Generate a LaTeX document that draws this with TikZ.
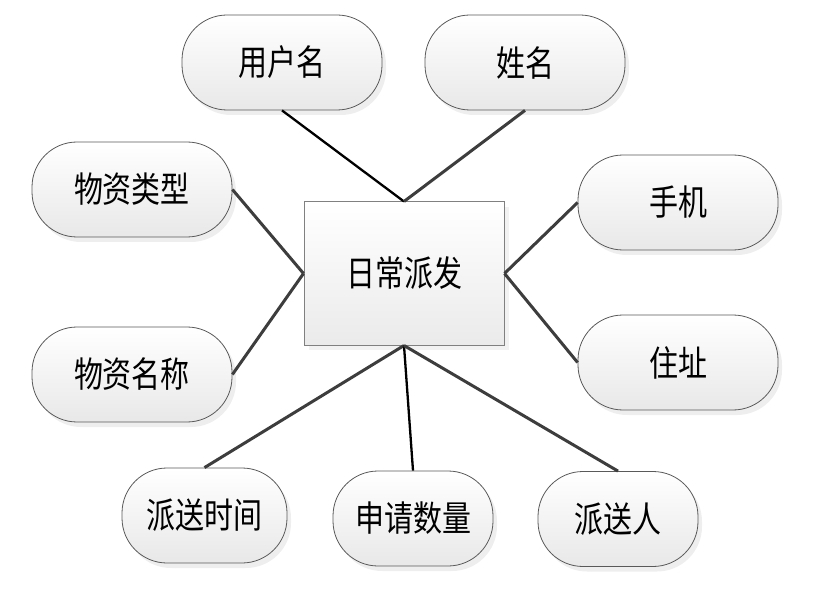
\documentclass[tikz,border=0pt]{standalone}
\usepackage{fontspec}
\usepackage{graphicx}
\newfontfamily\cjk{Noto Sans CJK SC}
\usetikzlibrary{shadows}
\tikzset{
  attr/.style={draw=black!65, line width=0.8pt, rounded corners=45pt,
    minimum width=200pt, minimum height=95pt, inner sep=0pt,
    top color=white, bottom color=black!9,
    drop shadow={shadow xshift=4pt, shadow yshift=-5pt, fill=black!13},
    font=\cjk\fontsize{29}{29}\selectfont},
  ent/.style={draw=black!50, line width=1pt,
    minimum width=200pt, minimum height=143pt, inner sep=0pt,
    top color=white, bottom color=black!8,
    drop shadow={shadow xshift=5pt, shadow yshift=-5pt, fill=black!10},
    font=\cjk\fontsize{29}{29}\selectfont},
  lnk/.style={draw=black!76, line width=3pt},
  lnkb/.style={draw=black, line width=2.3pt},
}
\newcommand{\tall}[1]{\scalebox{1}[1.22]{#1}}
\begin{document}
\begin{tikzpicture}[x=1pt,y=-1pt]
\useasboundingbox (0,0) rectangle (815,615);
\node[ent]  (c)  at (404,273.5) {\tall{日常派发}};
\node[attr] (yhm) at (282,62.5) {\tall{用户名}};
\node[attr] (xm)  at (525,62.5) {\tall{姓名}};
\node[attr] (lx)  at (132,189.5) {\tall{物资类型}};
\node[attr] (mc)  at (132,374.5) {\tall{物资名称}};
\node[attr] (sj)  at (678,202.5) {\tall{手机}};
\node[attr] (zz)  at (678,362.5) {\tall{住址}};
\node[attr, minimum width=165pt] (sjt) at (204.5,515.5) {\tall{派送时间}};
\node[attr, minimum width=160pt] (sl)  at (413,518.5) {\tall{申请数量}};
\node[attr, minimum width=160pt] (psr) at (618,519) {\tall{派送人}};
\draw[lnkb] (yhm.south) -- (c.north);
\draw[lnk]  (xm.south) -- (c.north);
\draw[lnk]  (lx.east) -- (c.west);
\draw[lnk]  (mc.east) -- (c.west);
\draw[lnk]  (sj.west) -- (c.east);
\draw[lnk]  (zz.west) -- (c.east);
\draw[lnk]  (c.south) -- (sjt.north);
\draw[lnkb] (c.south) -- (sl.north);
\draw[lnk]  (c.south) -- (psr.north);
\end{tikzpicture}
\end{document}
